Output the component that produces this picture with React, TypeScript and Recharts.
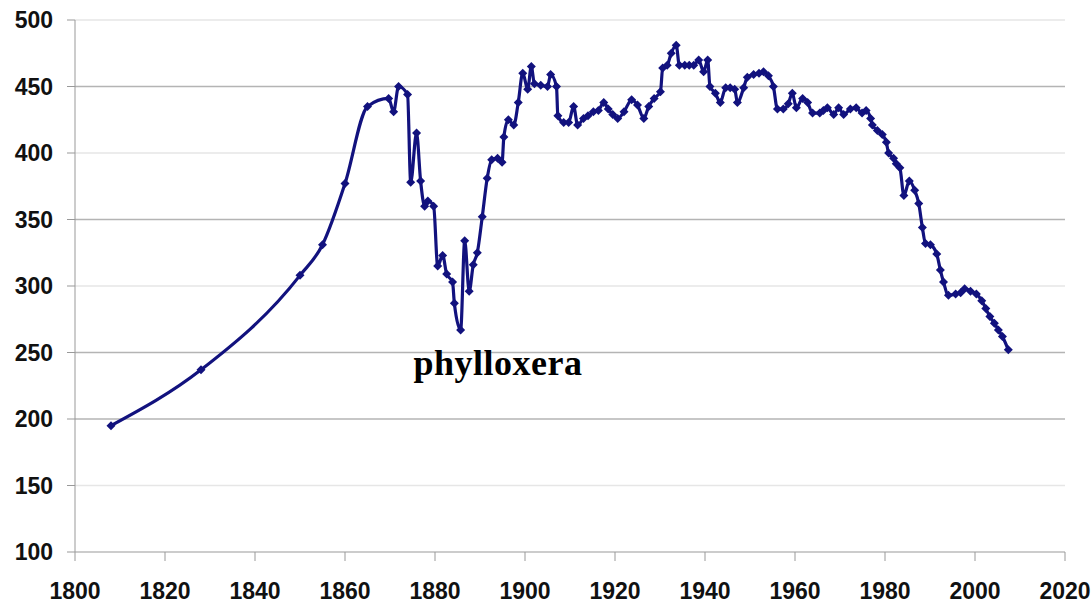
// Line chart with a "phylloxera" note at the dip

import {
  LineChart,
  Line,
  XAxis,
  YAxis,
  ReferenceLine,
  ReferenceDot,
} from "recharts";

const years = [
  1808, 1828, 1850, 1855, 1860, 1865, 1869.7, 1870.8, 1871.9, 1873.9, 1874.6,
  1875.9, 1876.8, 1877.7, 1878.4, 1879.7, 1880.6, 1881.7, 1882.6, 1883.9,
  1884.3, 1885.7, 1886.6, 1887.6, 1888.5, 1889.4, 1890.5, 1891.6, 1892.6,
  1893.9, 1894.9, 1895.3, 1896.3, 1897.5, 1898.5, 1899.5, 1900.6, 1901.4,
  1902.1, 1903.5, 1905, 1905.7, 1907, 1907.3, 1908.6, 1909.7, 1910.8, 1911.7,
  1913, 1914, 1915.2, 1916.3, 1917.5, 1918.5, 1919.5, 1920.6, 1922, 1923.7,
  1925, 1926.4, 1927.5, 1928.7, 1930.1, 1930.6, 1931.6, 1932.5, 1933.6,
  1934.3, 1935.5, 1936.5, 1937.5, 1938.6, 1939.7, 1940.6, 1941.1, 1942.3,
  1943.4, 1944.6, 1945.6, 1946.6, 1947.2, 1948.6, 1949.4, 1950.8, 1952, 1953,
  1954.1, 1955.2, 1956.1, 1957.4, 1958.5, 1959.4, 1960.3, 1961.7, 1962.8,
  1963.9, 1965.5, 1966.3, 1967.2, 1968.6, 1969.7, 1970.8, 1972.3, 1973.6,
  1974.9, 1975.8, 1976.8, 1977.2, 1978.3, 1979.4, 1980.3, 1980.8, 1981.9,
  1982.5, 1983.3, 1984.2, 1985.4, 1986.6, 1987.5, 1988.3, 1989, 1990.1,
  1991.5, 1992.3, 1993, 1994.1, 1995.7, 1996.8, 1997.7, 1999, 2000.3, 2001.5,
  2002.4, 2003.3, 2004.3, 2005.2, 2006.1, 2007.4,
];

const values = [
  195, 237, 308, 331, 377, 435, 441, 431, 450, 444, 378,
  415, 379, 360, 364, 360, 315, 323, 309, 303,
  287, 267, 334, 296, 316, 325, 352, 381, 395,
  396, 393, 412, 425, 421, 438, 460, 448, 465,
  452, 451, 450, 459, 450, 428, 423, 423, 435, 421,
  426, 428, 431, 432, 438, 433, 429, 426, 431, 440,
  436, 426, 435, 441, 446, 464, 466, 475, 481,
  466, 466, 466, 466, 470, 461, 470, 450, 445,
  438, 449, 449, 448, 438, 449, 457, 459, 460, 461,
  458, 450, 433, 433, 437, 445, 434, 441, 438,
  430, 430, 432, 434, 429, 434, 429, 433, 434,
  430, 432, 426, 421, 417, 414, 408, 400, 396,
  392, 389, 368, 379, 372, 362, 344, 332, 331,
  324, 312, 303, 293, 294, 295, 298, 296, 294, 289,
  283, 277, 272, 267, 262, 252,
];

const xTicks = [1800, 1820, 1840, 1860, 1880, 1900, 1920, 1940, 1960, 1980, 2000, 2020];
const yTicks = [100, 150, 200, 250, 300, 350, 400, 450, 500];
const darkGrid = [450, 350, 250, 200];
const lightGrid = [500, 400, 300, 150];

const data = years.map((year, i) => ({ year, value: values[i] }));

const lineColor = "#12127e";
const tickStyle = {
  fontFamily: "'Liberation Sans', Arial, sans-serif",
  fontWeight: "bold",
  fontSize: 23,
  fill: "#111",
};

function Diamond(props: any) {
  const { cx, cy } = props;
  if (cx == null || cy == null) return null;
  const s = 4.5;
  return (
    <polygon
      points={`${cx},${cy - s} ${cx + s},${cy} ${cx},${cy + s} ${cx - s},${cy}`}
      fill={lineColor}
    />
  );
}

function NoteLabel(props: any) {
  const { viewBox } = props;
  const x = viewBox.x + viewBox.width / 2;
  const y = viewBox.y + viewBox.height / 2;
  return (
    <text
      x={x}
      y={y}
      textAnchor="middle"
      fontFamily="'Liberation Serif', 'Times New Roman', serif"
      fontWeight="bold"
      fontSize={36}
      letterSpacing={0.5}
      fill="#000"
    >
      phylloxera
    </text>
  );
}

export default function App() {
  return (
    <div style={{ position: "absolute", left: 0, top: 0, background: "#fff" }}>
      <LineChart
        width={1092}
        height={605}
        data={data}
        margin={{ top: 20, right: 27, bottom: 0, left: 0 }}
      >
        {lightGrid.map((v) => (
          <ReferenceLine key={`l-${v}`} y={v} stroke="#e6e6e6" strokeWidth={1.5} />
        ))}
        {darkGrid.map((v) => (
          <ReferenceLine key={`d-${v}`} y={v} stroke="#b4b4b4" strokeWidth={1.5} />
        ))}
        <XAxis
          dataKey="year"
          type="number"
          domain={[1800, 2020]}
          ticks={xTicks}
          interval={0}
          height={53}
          tickSize={9}
          tickMargin={22}
          stroke="#999"
          tick={tickStyle}
        />
        <YAxis
          type="number"
          domain={[100, 500]}
          ticks={yTicks}
          interval={0}
          width={75}
          tickSize={8}
          tickMargin={14}
          stroke="#999"
          tick={tickStyle}
        />
        <ReferenceDot
          x={1894}
          y={233}
          r={0}
          fill="none"
          stroke="none"
          ifOverflow="visible"
          label={<NoteLabel />}
        />
        <Line
          type="monotone"
          dataKey="value"
          stroke={lineColor}
          strokeWidth={3.2}
          dot={<Diamond />}
          activeDot={false}
          isAnimationActive={false}
        />
      </LineChart>
    </div>
  );
}
